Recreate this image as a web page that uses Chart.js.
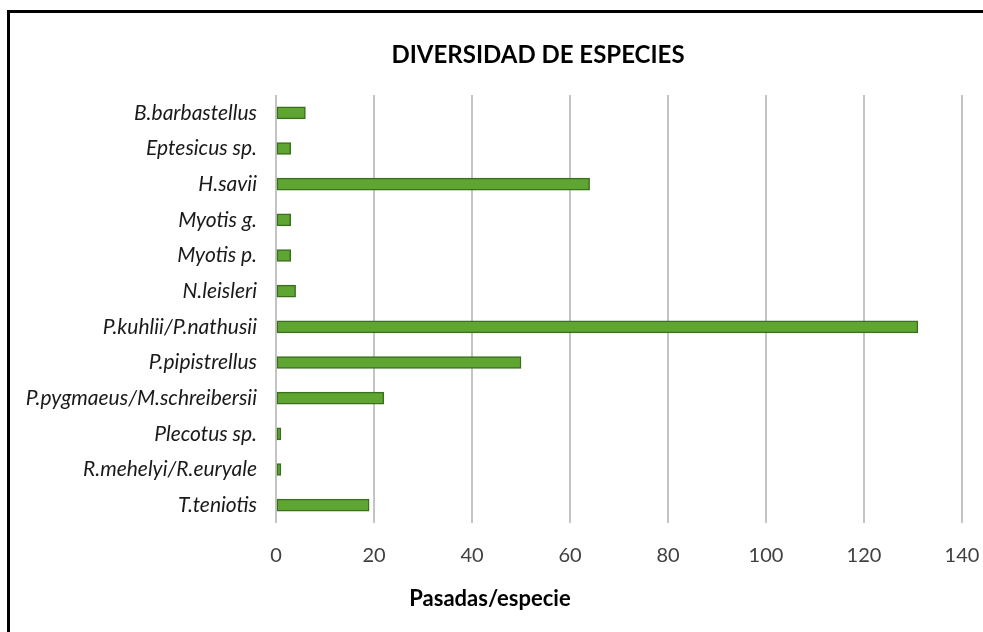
<!DOCTYPE html>
<html>
<head>
<meta charset="utf-8">
<script src="https://cdn.jsdelivr.net/npm/chart.js@4"></script>
<style>
  html, body { margin: 0; padding: 0; background: #fff; overflow: hidden; }
  #frame { position: absolute; left: 7px; top: 10px; width: 1000px; height: 700px;
           border-left: 3px solid #000; border-top: 3px solid #000; }
  #wrap { position: absolute; left: 0; top: 0; width: 983px; height: 632px; }
</style>
</head>
<body>
<div id="frame"></div>
<div id="wrap"><canvas id="chart"></canvas></div>
<script>
// especies y pasadas
const species = [
  'B.barbastellus', 'Eptesicus sp.', 'H.savii', 'Myotis g.', 'Myotis p.',
  'N.leisleri', 'P.kuhlii/P.nathusii', 'P.pipistrellus',
  'P.pygmaeus/M.schreibersii', 'Plecotus sp.', 'R.mehelyi/R.euryale', 'T.teniotis'
];
const passes = [6, 3, 64, 3, 3, 4, 131, 50, 22, 1, 1, 19];
const xTicks = [0, 20, 40, 60, 80, 100, 120, 140];
const chartTitle = 'DIVERSIDAD DE ESPECIES';
const xTitle = 'Pasadas/especie';

const FONT = 'Lato, "Open Sans", sans-serif';

// titulos colocados como en el original de Excel (no centrados en el area)
const excelTitles = {
  id: 'excelTitles',
  afterDraw(chart) {
    const c = chart.ctx;
    c.save();
    c.fillStyle = '#000';
    c.textAlign = 'center';
    c.textBaseline = 'middle';
    c.font = 'bold 24px ' + FONT;
    c.fillText(chartTitle, 538, 55);
    c.font = 'bold 22px ' + FONT;
    c.fillText(xTitle, 490, 599);
    c.restore();
  }
};

new Chart(document.getElementById('chart'), {
  type: 'bar',
  data: {
    labels: species,
    datasets: [{
      label: xTitle,
      data: passes,
      backgroundColor: '#5fa532',
      borderColor: '#3a6f1d',
      borderWidth: 1.5,
      borderSkipped: false,
      barThickness: 12
    }]
  },
  options: {
    indexAxis: 'y',
    responsive: true,
    maintainAspectRatio: false,
    animation: false,
    layout: { padding: { top: 95, right: 21, bottom: 43, left: 0 } },
    plugins: {
      legend: { display: false },
      tooltip: { enabled: false },
      title: { display: false }
    },
    scales: {
      x: {
        min: xTicks[0],
        max: xTicks[xTicks.length - 1],
        afterBuildTicks: (s) => { s.ticks = xTicks.map(v => ({ value: v })); },
        afterFit: (s) => { s.paddingLeft = 0; s.paddingRight = 0; },
        grid: { color: '#c4c4c4', lineWidth: 2, drawTicks: false },
        border: { display: false },
        ticks: { color: '#404040', font: { family: FONT, size: 20 }, padding: 21 }
      },
      y: {
        afterFit: (s) => { s.width = 276; },
        grid: { display: false, drawTicks: false },
        border: { display: false },
        ticks: {
          color: '#1a1a1a',
          font: { family: FONT, size: 21, style: 'italic' },
          padding: 19
        }
      }
    }
  },
  plugins: [excelTitles]
});
</script>
</body>
</html>
